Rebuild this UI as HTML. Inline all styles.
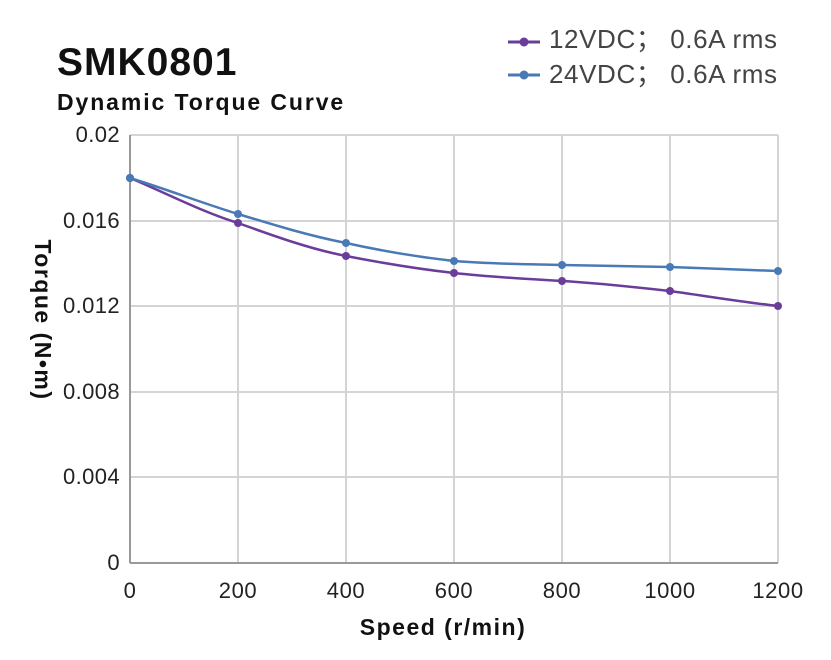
<!DOCTYPE html>
<html><head><meta charset="utf-8"><style>
body{margin:0;background:#fff;}
svg{display:block;font-family:"Liberation Sans","Noto Sans CJK SC",sans-serif;}
</style></head><body>
<svg width="831" height="660" viewBox="0 0 831 660" xmlns="http://www.w3.org/2000/svg">
<rect width="831" height="660" fill="#fff"/>
<text x="57" y="75" font-size="39" font-weight="bold" fill="#111" letter-spacing="1">SMK0801</text>
<text x="57" y="110" font-size="23" font-weight="bold" fill="#111" letter-spacing="1.9">Dynamic Torque Curve</text>
<g stroke="#d4d4d4" stroke-width="2">
<line x1="130" y1="135" x2="778" y2="135"/>
<line x1="130" y1="221" x2="778" y2="221"/>
<line x1="130" y1="306" x2="778" y2="306"/>
<line x1="130" y1="392" x2="778" y2="392"/>
<line x1="130" y1="477" x2="778" y2="477"/>
<line x1="238" y1="135" x2="238" y2="563"/>
<line x1="346" y1="135" x2="346" y2="563"/>
<line x1="454" y1="135" x2="454" y2="563"/>
<line x1="562" y1="135" x2="562" y2="563"/>
<line x1="670" y1="135" x2="670" y2="563"/>
<line x1="778" y1="135" x2="778" y2="563"/>
</g>
<g stroke="#999" stroke-width="2">
<line x1="130" y1="135" x2="130" y2="563"/>
<line x1="130" y1="563" x2="778" y2="563"/>
</g>
<g font-size="22" fill="#222" text-anchor="end" letter-spacing="0.4">
<text x="120" y="142">0.02</text>
<text x="120" y="228">0.016</text>
<text x="120" y="313">0.012</text>
<text x="120" y="399">0.008</text>
<text x="120" y="484">0.004</text>
<text x="120" y="570">0</text>
</g>
<g font-size="22" fill="#222" text-anchor="middle" letter-spacing="0.6">
<text x="130" y="598">0</text>
<text x="238" y="598">200</text>
<text x="346" y="598">400</text>
<text x="454" y="598">600</text>
<text x="562" y="598">800</text>
<text x="670" y="598">1000</text>
<text x="778" y="598">1200</text>
</g>
<text x="443" y="635" font-size="23" font-weight="bold" text-anchor="middle" fill="#111" letter-spacing="1.5">Speed (r/min)</text>
<text transform="translate(35,320) rotate(90)" font-size="23" font-weight="bold" text-anchor="middle" fill="#111" letter-spacing="1.5">Torque (N•m)</text>
<path d="M130,178 C166,193 202,212 238,223 C274,236 310,249 346,256 C382,263 418,269 454,273 C490,277 526,279 562,281 C598,283 634,287 670,291 C706,296 742,302 778,306" fill="none" stroke="#6a3d9a" stroke-width="2.5"/>
<g fill="#6a3d9a"><circle cx="130" cy="178" r="4"/><circle cx="238" cy="223" r="4"/><circle cx="346" cy="256" r="4"/><circle cx="454" cy="273" r="4"/><circle cx="562" cy="281" r="4"/><circle cx="670" cy="291" r="4"/><circle cx="778" cy="306" r="4"/></g>
<path d="M130,178 C166,189 202,203 238,214 C274,225 310,236 346,243 C382,251 418,257 454,261 C490,264 526,264 562,265 C598,266 634,266 670,267 C706,268 742,270 778,271" fill="none" stroke="#4a7ab5" stroke-width="2.5"/>
<g fill="#4a7ab5"><circle cx="130" cy="178" r="4"/><circle cx="238" cy="214" r="4"/><circle cx="346" cy="243" r="4"/><circle cx="454" cy="261" r="4"/><circle cx="562" cy="265" r="4"/><circle cx="670" cy="267" r="4"/><circle cx="778" cy="271" r="4"/></g>
<line x1="508" y1="42" x2="540" y2="42" stroke="#6a3d9a" stroke-width="3"/><circle cx="524" cy="42" r="4.5" fill="#6a3d9a"/>
<line x1="508" y1="75" x2="540" y2="75" stroke="#4a7ab5" stroke-width="3"/><circle cx="524" cy="75" r="4.5" fill="#4a7ab5"/>
<text x="549" y="48" font-size="26" fill="#444" letter-spacing="0.6">12VDC；  0.6A rms</text>
<text x="549" y="83" font-size="26" fill="#444" letter-spacing="0.6">24VDC；  0.6A rms</text>
</svg>
</body></html>
